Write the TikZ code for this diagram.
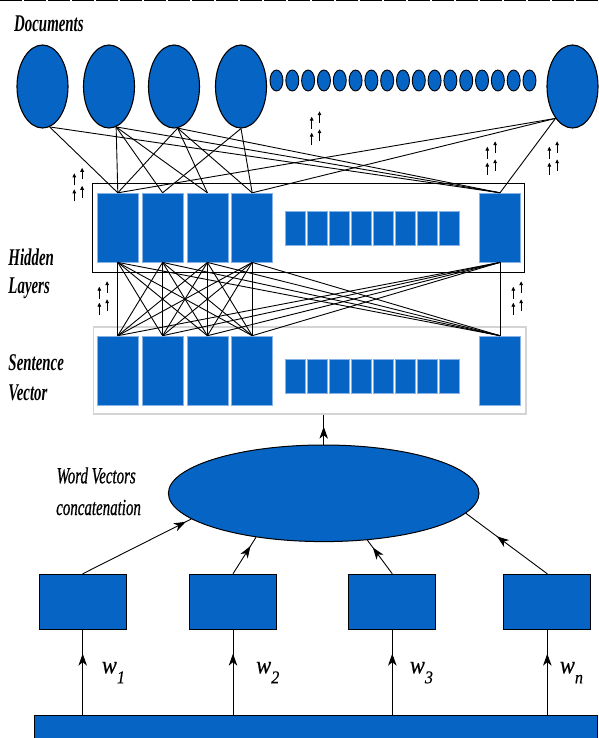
\documentclass[tikz,border=0pt]{standalone}
\usepackage{fontspec}
\setmainfont{Liberation Serif}
\newfontfamily\condfont[FakeStretch=0.62]{Liberation Serif}
\newfontfamily\condfontw[FakeStretch=0.65,FakeBold=0.6]{Liberation Serif}
\newfontfamily\wfont[FakeStretch=0.9,FakeBold=0.4]{Liberation Serif}
\usetikzlibrary{shapes.geometric,arrows.meta,decorations.markings}
\definecolor{blk}{RGB}{6,100,196}
\definecolor{blkedge}{RGB}{135,178,230}
\definecolor{sentgray}{RGB}{212,212,212}
\newcommand{\titlefont}{\condfont\bfseries\itshape\fontsize{24}{24}\selectfont}
\newcommand{\wvfont}{\condfontw\itshape\fontsize{23}{23}\selectfont}
\newcommand{\wlab}[1]{\wfont\fontsize{25}{25}\selectfont\itshape w\raisebox{-10pt}{\fontsize{18}{18}\selectfont #1}}
\tikzset{
  doc/.style={ellipse, draw=black, line width=1.1pt, fill=blk, inner sep=0pt, minimum width=51pt, minimum height=83pt},
  sdoc/.style={ellipse, draw=black, line width=0.9pt, fill=blk, inner sep=0pt, minimum width=13pt, minimum height=21pt},
  bigblk/.style={rectangle, fill=blk, draw=blkedge, line width=0.6pt, inner sep=0pt, minimum width=41pt, minimum height=69pt},
  smallblk/.style={rectangle, fill=blk, draw=blkedge, line width=0.6pt, inner sep=0pt, minimum width=20.7pt, minimum height=34pt},
  wbox/.style={rectangle, fill=blk, draw=black, line width=1pt, inner sep=0pt, minimum width=86.7pt, minimum height=55pt},
  conn/.style={draw=black, line width=0.9pt},
  midarrow/.style={conn, postaction={decorate}, decoration={markings, mark=at position #1 with {\arrow{Stealth[length=12pt,width=8.5pt,inset=3.5pt]}}}},
  lab/.style={inner sep=0pt, anchor=base west},
  smallarr/.style={line width=0.9pt, -{Triangle[length=4pt,width=3.6pt]}},
  uparrows/.pic={
    \draw[smallarr] (0,12) -- (0,0);
    \draw[smallarr] (0,28) -- (0,16);
    \draw[smallarr] (7.8,6) -- (7.8,-5.5);
    \draw[smallarr] (7.8,24.5) -- (7.8,12.5);
  }
}
\begin{document}
\begin{tikzpicture}[x=1pt,y=-1pt]
\useasboundingbox (0,0) rectangle (598,738);
\fill[white] (0,0) rectangle (598,738);
\draw[line width=1.2pt, dash pattern=on 22pt off 2pt] (0,0.6) -- (598,0.6);

% titles
\node[lab] (tdoc) at (14,31.5) {\titlefont Documents};
\node[lab] (thid1) at (8.3,265) {\titlefont Hidden};
\node[lab] (thid2) at (8.3,293.5) {\titlefont Layers};
\node[lab] (tsen1) at (8.3,370) {\titlefont Sentence};
\node[lab] (tsen2) at (8.3,400) {\titlefont Vector};
\node[lab] (twv1) at (56.5,483.3) {\wvfont Word Vectors};
\node[lab] (twv2) at (56,515) {\wvfont concatenation};

% documents
\node[doc] (d1) at (42.5,86.5) {};
\node[doc] (d2) at (109,86.5) {};
\node[doc] (d3) at (174,86.5) {};
\node[doc] (d4) at (241,86.5) {};
\node[doc] (dR) at (572.5,86.5) {};
\foreach \i in {0,...,16} \node[sdoc] (s\i) at ({276.5+15.81*\i},80.5) {};

% layer frames
\node[draw=black, line width=1.2pt, minimum width=432pt, minimum height=89.4pt, inner sep=0pt] (hid) at (308.3,228) {};
\node[draw=sentgray, line width=1.6pt, minimum width=432.4pt, minimum height=87.3pt, inner sep=0pt] (sent) at (309.5,370.35) {};

% blocks
\foreach \i/\x in {1/117.8,2/162.6,3/207.4,4/252.2,5/500} {
  \node[bigblk] (h\i) at (\x,227.6) {};
  \node[bigblk] (v\i) at (\x,370.5) {};
}
\foreach \k in {0,...,7} {
  \node[smallblk] (hs\k) at ({295.35+22*\k},228.2) {};
  \node[smallblk] (vs\k) at ({295.35+22*\k},376) {};
}

% documents -> hidden
\foreach \t in {1,5} \draw[conn] (d1.280) -- (h\t.north);
\foreach \t in {1,2,3,5} \draw[conn] (d2.280) -- (h\t.north);
\foreach \t in {1,3,4,5} \draw[conn] (d3.275) -- (h\t.north);
\foreach \t in {2,4} \draw[conn] (d4.270) -- (h\t.north);
\foreach \t in {1,4,5} \draw[conn] (dR.242) -- (h\t.north);

% hidden -> sentence
\foreach \a in {1,...,5} \foreach \b in {1,...,5} \draw[conn] (h\a.south) -- (v\b.north);

% small arrow groups
\pic at (74.3,173.3) {uparrows};
\pic at (311.7,116.7) {uparrows};
\pic at (487.3,146.7) {uparrows};
\pic at (549.3,146.7) {uparrows};
\pic at (99.3,286.7) {uparrows};
\pic at (513.3,286.7) {uparrows};

% bottom part
\node[ellipse, draw=black, fill=blk, line width=1pt, minimum width=310.6pt, minimum height=96.6pt, inner sep=0pt] (cat) at (323.7,493.3) {};
\node[wbox] (w1) at (82.7,601.8) {};
\node[wbox] (w2) at (233,601.8) {};
\node[wbox] (w3) at (392.3,601.8) {};
\node[wbox] (w4) at (547.3,601.8) {};
\node[rectangle, fill=blk, draw=black, line width=1pt, inner sep=0pt, minimum width=562.2pt, minimum height=30pt, anchor=north west] (bar) at (34.3,715) {};

\draw[midarrow=0.6] (cat.north) -- (cat.north |- sent.south);
\draw[midarrow=0.95] (w1.north) -- (cat.191.4);
\draw[midarrow=0.76] (w2.north) -- (cat.213.9);
\draw[midarrow=0.78] (w3.north) -- (cat.313.1);
\draw[midarrow=0.62] (w4.north) -- (cat.352.1);
\foreach \i in {1,...,4} \draw[midarrow=0.72] (w\i.south |- bar.north) -- (w\i.south);

\node[lab] (lw1) at (101.7,673.3) {\wlab{1}};
\node[lab] (lw2) at (256,673.3) {\wlab{2}};
\node[lab] (lw3) at (409.7,673.3) {\wlab{3}};
\node[lab] (lw4) at (559.7,673.3) {\wlab{n}};
\end{tikzpicture}
\end{document}
